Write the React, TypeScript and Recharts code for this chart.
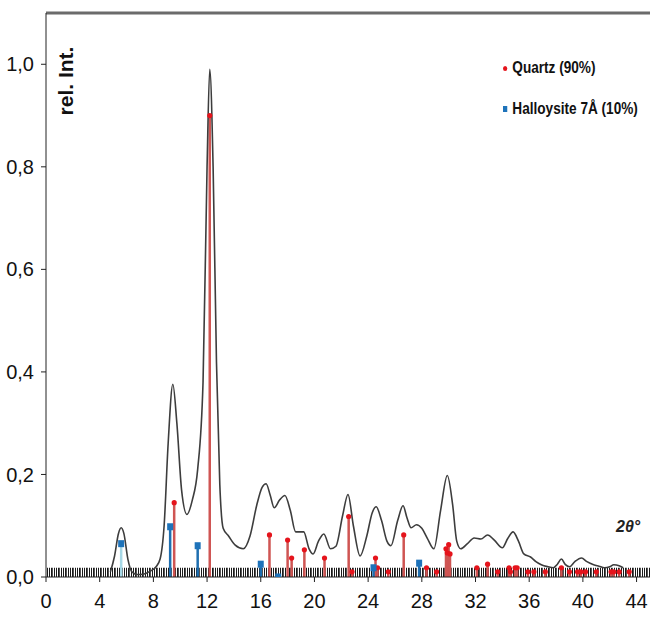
import {
  ComposedChart,
  Line,
  Bar,
  Scatter,
  XAxis,
  YAxis,
  ReferenceArea,
  ReferenceLine,
} from 'recharts';

// measured diffractogram (2θ, rel. intensity)
const curveAngle = [
  4.8, 5.1, 5.4, 5.6, 5.8, 6.1, 6.4, 6.8, 7.3, 7.8, 8.2, 8.5, 8.8, 9.1, 9.45, 9.75, 10.1, 10.5,
  10.9, 11.3, 11.7, 12.0, 12.2, 12.45, 12.7, 12.95, 13.2, 13.6, 14.1, 14.7, 15.2, 15.7, 16.1,
  16.4, 16.7, 17.0, 17.4, 17.8, 18.2, 18.6, 19.2, 19.6, 19.9, 20.3, 20.7, 21.2, 21.6, 22.1, 22.5,
  22.9, 23.4, 23.9, 24.3, 24.6, 25.0, 25.4, 25.7, 26.2, 26.6, 26.9, 27.2, 27.6, 28.0, 28.4, 28.9,
  29.4, 29.9, 30.3, 30.6, 30.9, 31.4, 31.9, 32.4, 32.9, 33.4, 34.0, 34.4, 34.8, 35.2, 35.6, 36.1,
  36.5, 36.9, 37.4, 37.8, 38.1, 38.4, 38.7, 39.0, 39.4, 39.9, 40.3, 40.8, 41.2, 41.6, 42.0, 42.3,
  42.7, 43.0,
];
const curveInt = [
  0.01, 0.04, 0.085, 0.096, 0.085, 0.035, 0.01, 0.005, 0.006, 0.012, 0.02, 0.035, 0.1, 0.26, 0.376,
  0.3, 0.17, 0.122, 0.15, 0.21, 0.38, 0.8, 0.99, 0.8, 0.42, 0.18, 0.095, 0.08, 0.062, 0.055, 0.08,
  0.14, 0.175, 0.182, 0.16, 0.135, 0.15, 0.159, 0.13, 0.088, 0.088, 0.055, 0.045, 0.07, 0.084,
  0.055, 0.06, 0.12, 0.161, 0.1, 0.041, 0.08, 0.125, 0.137, 0.11, 0.07, 0.061, 0.11, 0.139, 0.115,
  0.096, 0.102, 0.095, 0.076, 0.055, 0.13, 0.198, 0.14, 0.07, 0.055, 0.065, 0.076, 0.074, 0.082,
  0.072, 0.057, 0.075, 0.088, 0.07, 0.045, 0.039, 0.03, 0.024, 0.02, 0.018, 0.025, 0.035, 0.024,
  0.02, 0.03, 0.037, 0.03, 0.024, 0.021, 0.018, 0.02, 0.024, 0.022, 0.018,
];

// reference patterns
const quartzAngle = [
  9.55, 12.2, 16.65, 18.0, 18.3, 19.25, 20.75, 22.55, 22.8, 24.55, 24.7, 25.5, 26.65, 28.35, 29.1,
  29.8, 29.9, 30.0, 30.1, 32.1, 32.9, 33.65, 34.5, 34.6, 34.95, 35.1, 35.9, 36.35, 37.2, 38.4, 39.0,
  39.6, 39.85, 40.2, 41.0, 42.1, 42.3, 42.7, 43.45,
];
const quartzInt = [
  0.145, 0.9, 0.082, 0.072, 0.037, 0.053, 0.037, 0.118, 0.01, 0.037, 0.018, 0.01, 0.082, 0.018,
  0.01, 0.055, 0.047, 0.063, 0.045, 0.018, 0.025, 0.01, 0.018, 0.01, 0.018, 0.018, 0.01, 0.01, 0.01,
  0.018, 0.01, 0.01, 0.01, 0.01, 0.01, 0.01, 0.01, 0.01, 0.01,
];
const hallAngle = [5.6, 9.25, 11.3, 16.0, 17.3, 24.4, 27.8];
const hallInt = [0.065, 0.098, 0.061, 0.025, 0.0, 0.018, 0.027];

const xTicks = [0, 4, 8, 12, 16, 20, 24, 28, 32, 36, 40, 44];
const yTicks = [0, 0.2, 0.4, 0.6, 0.8, 1.0];

const curve = curveAngle.map((x, i) => ({ x, y: curveInt[i] }));
const quartz = quartzAngle.map((x, i) => ({ x, y: quartzInt[i] }));
const halloysite = hallAngle.map((x, i) => ({ x, y: hallInt[i] }));
const sticks = [
  ...quartz.map((p) => ({ x: p.x, q: p.y })),
  ...halloysite.map((p) => ({ x: p.x, h: p.y })),
].sort((a, b) => a.x - b.x);

const font = '"Liberation Sans Narrow", "Liberation Sans", Arial, sans-serif';
const fmt = (v: number) => v.toFixed(1).replace('.', ',');

// draw a fixed-width stick centred on the bar slot recharts computes
const stick = (color: (x: number) => string) => (props: any) => {
  if (!props.height) return <g />;
  const cx = props.x + props.width / 2;
  return <rect x={cx - 1.25} y={props.y} width={2.5} height={props.height} fill={color(props.payload.x)} />;
};
const quartzStick = stick(() => '#cf5553');
const hallStick = stick((x) => (x < 6 ? '#a6d8e6' : '#1f6fb0'));

const QuartzDot = (props: any) => <circle cx={props.cx} cy={props.cy} r={2.6} fill="#e5141c" />;
const HallSquare = (props: any) => (
  <rect x={props.cx - 3} y={props.cy - 3.5} width={6} height={7} fill="#1e73ba" />
);

export default function App() {
  return (
    <div style={{ position: 'absolute', left: 0, top: 0, width: 650, height: 624, background: '#fff', fontFamily: font }}>
      <svg width={0} height={0} style={{ position: 'absolute' }}>
        <defs>
          <pattern id="barcode" patternUnits="userSpaceOnUse" width={7} height={10}>
            <rect x={0} y={0} width={1} height={10} fill="#1a1a1a" />
            <rect x={2} y={0} width={1} height={10} fill="#1a1a1a" />
            <rect x={3} y={0} width={1} height={10} fill="#555" />
            <rect x={5} y={0} width={1} height={10} fill="#1a1a1a" />
          </pattern>
        </defs>
      </svg>
      <ComposedChart
        width={650}
        height={624}
        data={sticks}
        margin={{ top: 13, right: 0, left: 0, bottom: 0 }}
      >
        <XAxis
          dataKey="x"
          type="number"
          domain={[0, 45]}
          ticks={xTicks}
          allowDataOverflow
          height={47}
          tickSize={5}
          tickMargin={12}
          stroke="#222"
          tick={{ fill: '#111', fontSize: 20, fontFamily: font }}
        />
        <YAxis
          dataKey="y"
          type="number"
          domain={[0, 1.1]}
          ticks={yTicks}
          allowDataOverflow
          width={46}
          tickSize={5}
          tickMargin={7}
          stroke="#222"
          tickFormatter={fmt}
          tick={{ fill: '#111', fontSize: 20, fontFamily: font }}
        />
        <ReferenceLine y={1.1} stroke="#6b6b6b" strokeWidth={3} />
        <ReferenceArea x1={0} x2={45} y1={0} y2={0.018} fill="url(#barcode)" fillOpacity={1} stroke="none" />
        <Bar dataKey="q" stackId="s" shape={quartzStick} isAnimationActive={false} />
        <Bar dataKey="h" stackId="s" shape={hallStick} isAnimationActive={false} />
        <Line
          data={curve}
          dataKey="y"
          type="monotone"
          stroke="#3d3d3d"
          strokeWidth={1.6}
          dot={false}
          isAnimationActive={false}
        />
        <Scatter data={quartz} dataKey="y" shape={QuartzDot} isAnimationActive={false} />
        <Scatter data={halloysite} dataKey="y" shape={HallSquare} isAnimationActive={false} />
      </ComposedChart>

      <div
        style={{
          position: 'absolute',
          left: 66,
          top: 81,
          transform: 'translate(-50%, -50%) rotate(-90deg) scaleX(1.05)',
          fontWeight: 900,
          fontSize: 20,
          fontFamily: font,
          whiteSpace: 'nowrap',
          color: '#111',
        }}
      >
        rel. Int.
      </div>

      <div
        style={{
          position: 'absolute',
          left: 503,
          top: 58,
          fontSize: 16,
          fontWeight: 'bold',
          color: '#111',
          whiteSpace: 'nowrap',
          transform: 'scaleX(0.85)',
          transformOrigin: '0 0',
        }}
      >
        <div style={{ display: 'flex', alignItems: 'center', height: 20 }}>
          <span style={{ width: 5, height: 5, borderRadius: 3, background: '#e5141c', marginRight: 6 }} />
          Quartz (90%)
        </div>
        <div style={{ display: 'flex', alignItems: 'center', height: 20, marginTop: 21 }}>
          <span style={{ width: 5, height: 6, background: '#1e73ba', marginRight: 6 }} />
          Halloysite 7Å (10%)
        </div>
      </div>

      <div
        style={{
          position: 'absolute',
          left: 616,
          top: 518,
          fontSize: 16,
          fontWeight: 'bold',
          fontStyle: 'italic',
          color: '#222',
        }}
      >
        2θ°
      </div>
    </div>
  );
}
